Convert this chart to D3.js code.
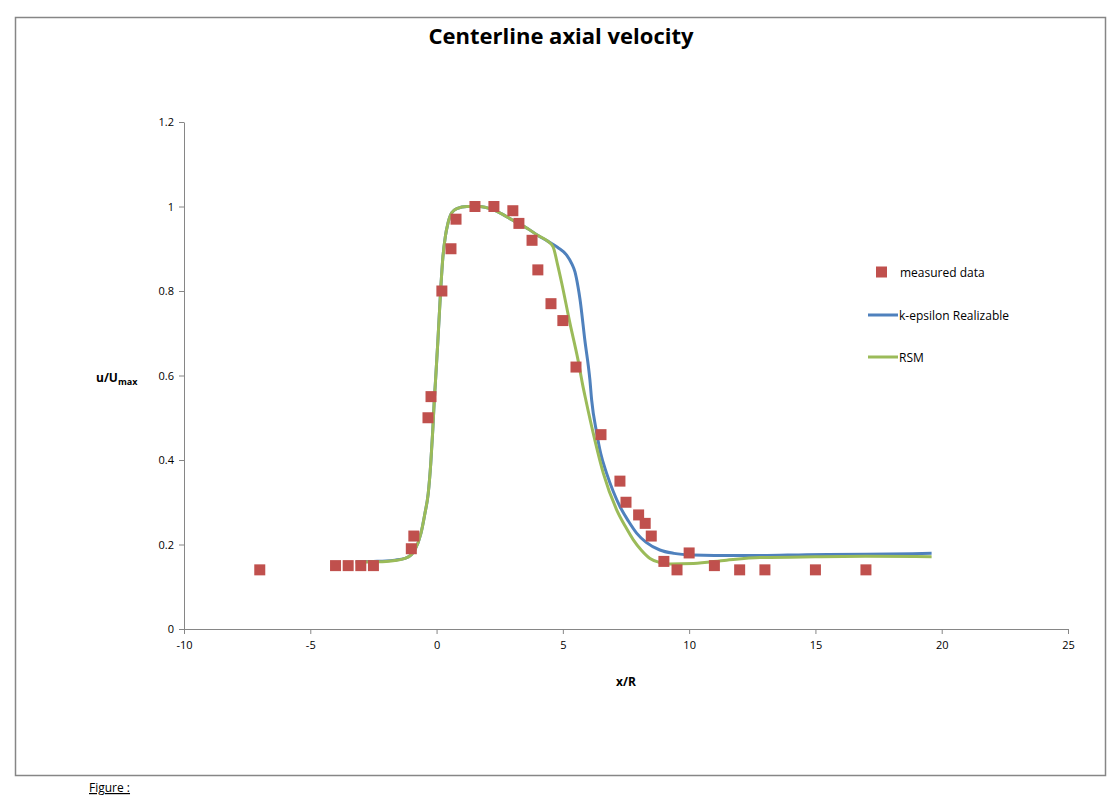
<!DOCTYPE html>
<html><head><meta charset="utf-8">
<script src="https://cdn.jsdelivr.net/npm/d3@7/dist/d3.min.js"></script>
<style>body{margin:0;background:#fff}svg{display:block}</style>
</head><body><svg id="c" width="1120" height="808"></svg>
<script>
const measuredX = [-7,-4,-3.5,-3,-2.5,-1,-0.9,-0.34,-0.22,0.21,0.57,0.77,1.52,2.27,3.02,3.26,3.78,4.01,4.53,5.0,5.52,6.51,7.26,7.5,8.0,8.26,8.5,9.0,9.52,10.0,11,12,13,15,17];
const measuredY = [0.14,0.15,0.15,0.15,0.15,0.19,0.22,0.5,0.55,0.8,0.9,0.97,1.0,1.0,0.99,0.96,0.92,0.85,0.77,0.73,0.62,0.46,0.35,0.30,0.27,0.25,0.22,0.16,0.14,0.18,0.15,0.14,0.14,0.14,0.14];
const keX = [-3.2,-2.5,-2,-1.65,-1.25,-1.0,-0.86,-0.62,-0.46,-0.33,-0.23,-0.15,-0.09,-0.04,0.05,0.16,0.25,0.35,0.45,0.6,0.8,1.2,1.7,2.2,2.6,3.0,3.6,4.0,4.4,4.8,5.15,5.35,5.48,5.6,5.68,5.87,6.07,6.14,6.34,6.5,6.73,7.0,7.26,7.6,7.92,8.3,8.84,9.4,10.15,11,12.8,14.65,17,19.6];
const keY = [0.159,0.160,0.161,0.163,0.167,0.176,0.187,0.226,0.274,0.321,0.392,0.471,0.542,0.589,0.68,0.80,0.88,0.93,0.96,0.985,0.995,1.0,1.0,0.993,0.982,0.968,0.948,0.932,0.918,0.903,0.885,0.865,0.845,0.81,0.78,0.684,0.59,0.542,0.464,0.415,0.369,0.325,0.29,0.255,0.227,0.205,0.187,0.179,0.175,0.174,0.174,0.176,0.177,0.179];
const rsmX = [-3.2,-2.5,-2,-1.65,-1.25,-1.0,-0.86,-0.62,-0.46,-0.33,-0.23,-0.15,-0.09,-0.04,0.05,0.16,0.25,0.35,0.45,0.6,0.8,1.2,1.7,2.2,2.6,3.0,3.6,4.0,4.4,4.61,4.8,4.95,5.28,5.6,5.8,5.91,6.2,6.6,7.13,7.5,7.79,8.1,8.45,8.8,9.24,10.17,11.48,12.8,15,17,19.6];
const rsmY = [0.158,0.159,0.160,0.162,0.167,0.176,0.187,0.226,0.274,0.321,0.392,0.471,0.542,0.589,0.68,0.80,0.88,0.93,0.96,0.985,0.995,1.0,1.0,0.993,0.982,0.968,0.948,0.932,0.918,0.905,0.86,0.82,0.724,0.637,0.573,0.542,0.464,0.369,0.282,0.24,0.211,0.187,0.167,0.158,0.154,0.155,0.163,0.169,0.171,0.172,0.171];
const xTicks = [-10,-5,0,5,10,15,20,25];
const yTicks = [0,0.2,0.4,0.6,0.8,1,1.2];

const svg = d3.select("#c");
const font = "'Open Sans', 'Noto Sans', sans-serif";
svg.append("rect").attr("x",15.5).attr("y",17.5).attr("width",1090).attr("height",758)
  .attr("fill","#fff").attr("stroke","#868686").attr("stroke-width",1.5);

const x = d3.scaleLinear().domain([-10,25]).range([184,1068]);
const y = d3.scaleLinear().domain([0,1.2]).range([629,122]);

const gx = svg.append("g").attr("transform","translate(0,629)")
  .call(d3.axisBottom(x).tickValues(xTicks).tickSize(5).tickSizeOuter(0).tickFormat(d=>String(d)));
const gy = svg.append("g").attr("transform","translate(184,0)")
  .call(d3.axisLeft(y).tickValues(yTicks).tickSize(5).tickSizeOuter(0).tickFormat(d=>String(d)));
[gx,gy].forEach(g=>{
  g.selectAll("path,line").attr("stroke","#868686");
  g.selectAll("text").attr("font-family",font).attr("font-size",11).attr("fill","#000");
});
gx.selectAll("text").attr("dy","1.1em").attr("y",8);
gy.selectAll("text").attr("x",-10);

const line = d3.line().curve(d3.curveMonotoneX);
const kePts = keX.map((v,i)=>[x(v),y(keY[i])]);
const rsmPts = rsmX.map((v,i)=>[x(v),y(rsmY[i])]);
svg.append("path").attr("d",line(kePts)).attr("fill","none").attr("stroke","#4F81BD").attr("stroke-width",3);
svg.append("path").attr("d",line(rsmPts)).attr("fill","none").attr("stroke","#9BBB59").attr("stroke-width",3);

svg.append("g").selectAll("rect").data(measuredX).join("rect")
  .attr("x",(d)=>x(d)-5.5).attr("y",(d,i)=>y(measuredY[i])-5.5)
  .attr("width",11).attr("height",11).attr("fill","#C0504D");

// title
svg.append("text").attr("x",561).attr("y",44).attr("text-anchor","middle")
  .attr("font-family",font).attr("font-weight","bold").attr("font-size",22).text("Centerline axial velocity");
// axis labels
svg.append("text").attr("x",626).attr("y",686).attr("text-anchor","middle")
  .attr("font-family",font).attr("font-weight","bold").attr("font-size",12).text("x/R");
const yl = svg.append("text").attr("x",96).attr("y",382).attr("font-family",font).attr("font-weight","bold").attr("font-size",12);
yl.append("tspan").text("u/U");
yl.append("tspan").attr("font-size",9).attr("dy",3).text("max");

// legend
const lg = svg.append("g").attr("font-family",font).attr("font-size",12);
lg.append("rect").attr("x",876).attr("y",266.5).attr("width",11).attr("height",11).attr("fill","#C0504D");
lg.append("text").attr("x",900).attr("y",277).text("measured data");
lg.append("line").attr("x1",868).attr("x2",898).attr("y1",315).attr("y2",315).attr("stroke","#4F81BD").attr("stroke-width",3);
lg.append("text").attr("x",899).attr("y",320).text("k-epsilon Realizable");
lg.append("line").attr("x1",868).attr("x2",898).attr("y1",357).attr("y2",357).attr("stroke","#9BBB59").attr("stroke-width",3);
lg.append("text").attr("x",899).attr("y",362).text("RSM");

// figure caption
svg.append("text").attr("x",89).attr("y",792).attr("font-family",font).attr("font-size",12)
  .attr("text-decoration","underline").text("Figure :");
</script></body></html>
